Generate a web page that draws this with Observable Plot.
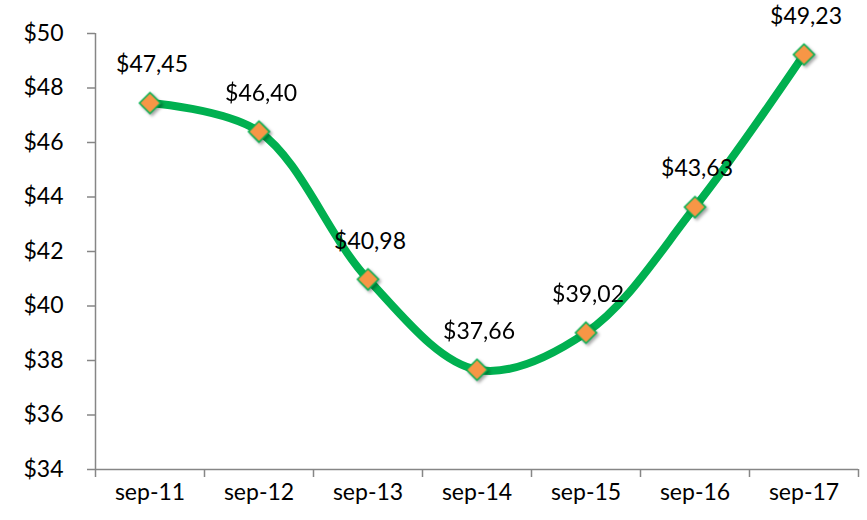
<!DOCTYPE html>
<html>
<head>
<meta charset="utf-8">
<script src="https://cdn.jsdelivr.net/npm/d3@7"></script>
<script src="https://cdn.jsdelivr.net/npm/@observablehq/plot@0.6"></script>
<style>
  html, body { margin: 0; padding: 0; background: #fff; }
  #chart g[aria-label="dot"] { filter: drop-shadow(2px 2px 1.5px rgba(0,0,0,0.35)); }
</style>
</head>
<body>
<div id="chart"></div>
<script>
const categories = ["sep-11", "sep-12", "sep-13", "sep-14", "sep-15", "sep-16", "sep-17"];
const values = [47.45, 46.40, 40.98, 37.66, 39.02, 43.63, 49.23];
const yTicks = [34, 36, 38, 40, 42, 44, 46, 48, 50];

const data = categories.map((c, i) => ({cat: c, pos: i + 0.5, value: values[i]}));
const labelTicks = categories.map((c, i) => i + 0.5);
const boundaryTicks = d3.range(0, categories.length + 1);
const fmt = v => "$" + v.toFixed(2).replace(".", ",");

const green = "#00B050";
const orange = "#F79646";
const grey = "#868686";

const chart = Plot.plot({
  width: 867,
  height: 520,
  marginLeft: 95,
  marginRight: 9,
  marginTop: 33,
  marginBottom: 51,
  style: {fontFamily: "Lato, 'Open Sans', sans-serif", fontSize: "23px", color: "black", background: "white"},
  x: {domain: [0, categories.length]},
  y: {domain: [34, 50]},
  marks: [
    Plot.ruleX([0], {y1: 34, y2: 50, stroke: grey, strokeWidth: 1.5}),
    Plot.ruleY([34], {stroke: grey, strokeWidth: 1.5}),
    Plot.axisY({ticks: yTicks, tickFormat: d => "$" + d, tickSize: 8, tickPadding: 24, stroke: grey, strokeWidth: 1.5, fill: "black", label: null}),
    Plot.axisX({ticks: boundaryTicks, tickSize: 8, tickFormat: () => "", stroke: grey, strokeWidth: 1.5, label: null}),
    Plot.axisX({ticks: labelTicks, tickSize: 0, tickPadding: 14, tickFormat: d => categories[Math.round(d - 0.5)], fill: "black", label: null}),
    Plot.line(data, {x: "pos", y: "value", curve: "catmull-rom", stroke: green, strokeWidth: 8, strokeLinecap: "round", strokeLinejoin: "round"}),
    Plot.dot(data, {x: "pos", y: "value", symbol: "diamond2", r: 9.5, fill: orange, stroke: green, strokeWidth: 1.5}),
    Plot.text(data, {x: "pos", y: "value", text: d => fmt(d.value), dy: -38, dx: 2, fill: "black", fontSize: 23})
  ]
});
document.getElementById("chart").appendChild(chart);
</script>
</body>
</html>
